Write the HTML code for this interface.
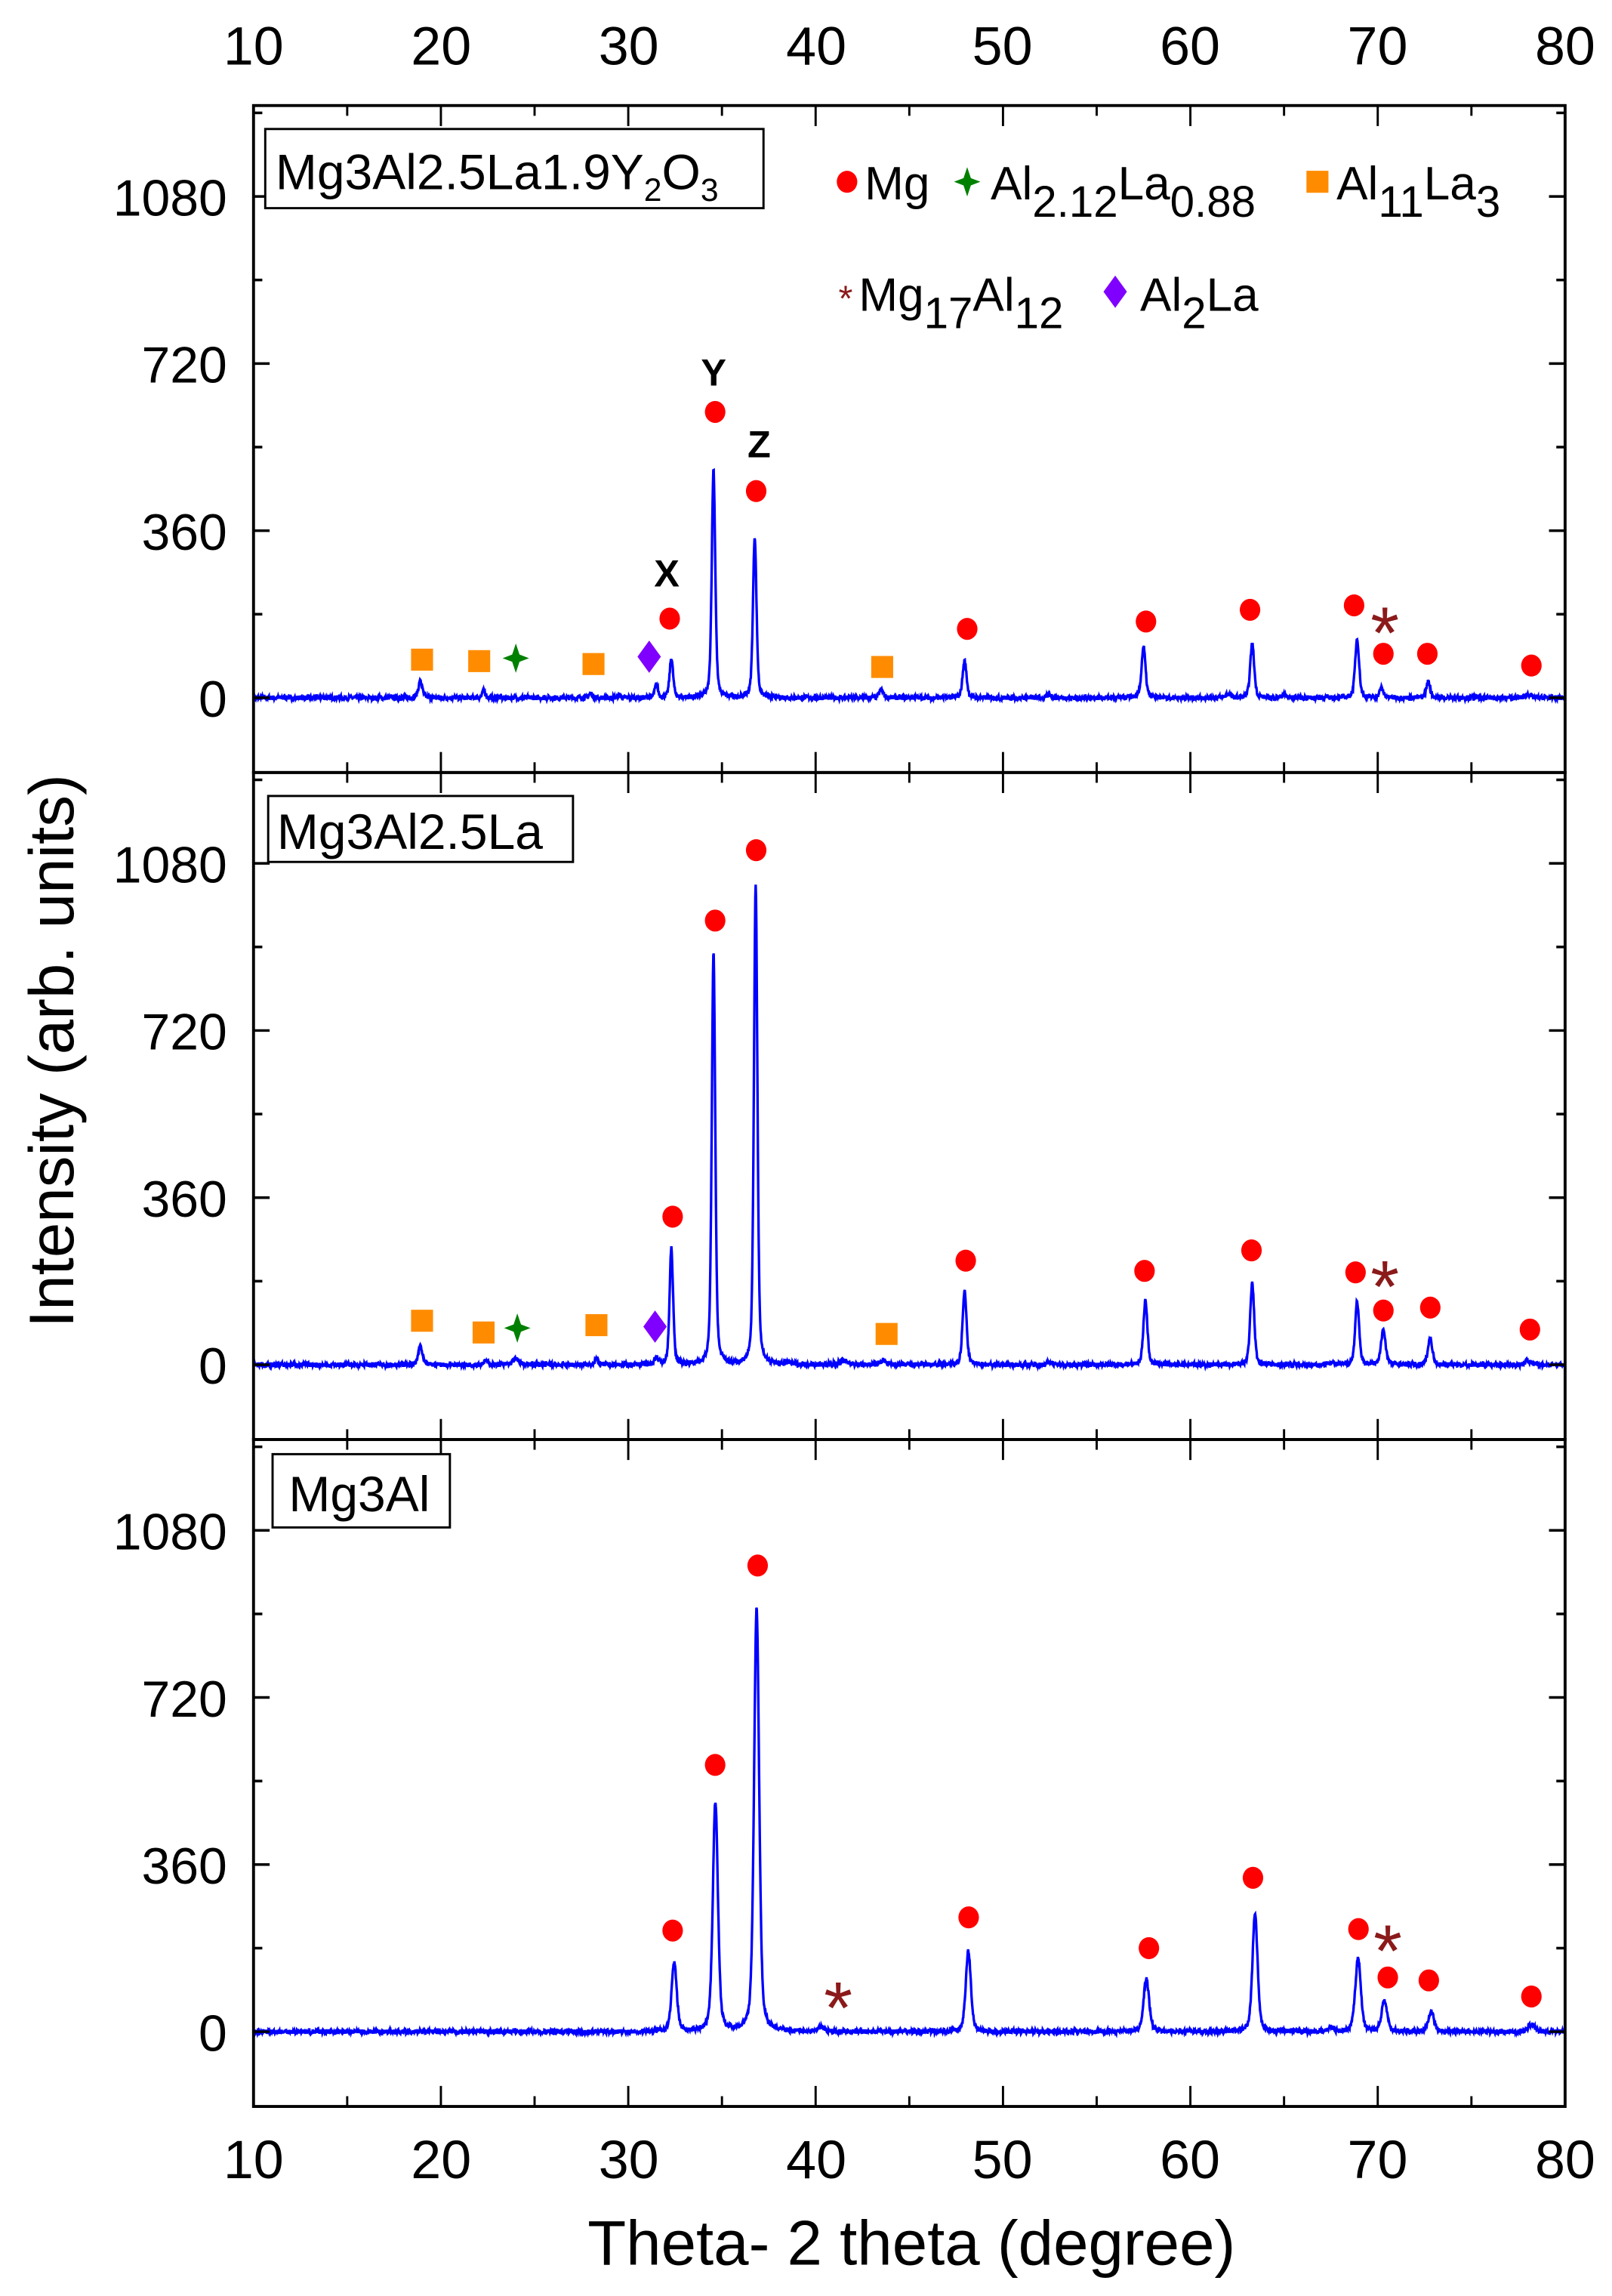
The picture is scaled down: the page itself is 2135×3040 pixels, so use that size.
<!DOCTYPE html>
<html><head><meta charset="utf-8"><style>html,body{margin:0;padding:0;background:#fff}svg{display:block}</style></head>
<body>
<svg id="s" width="2135" height="3040" viewBox="0 0 1100 1566.3" preserveAspectRatio="none" xmlns="http://www.w3.org/2000/svg" font-family="Liberation Sans, Arial, sans-serif">
<rect width="1100" height="1566.3" fill="#fff"/>
<g id="g"></g>
<g font-size="37" text-anchor="middle" fill="#000">
<text x="173" y="44">10</text><text x="301" y="44">20</text><text x="429" y="44">30</text><text x="557" y="44">40</text><text x="684" y="44">50</text><text x="812" y="44">60</text><text x="940" y="44">70</text><text x="1068" y="44">80</text>
<text x="173" y="1486">10</text><text x="301" y="1486">20</text><text x="429" y="1486">30</text><text x="557" y="1486">40</text><text x="684" y="1486">50</text><text x="812" y="1486">60</text><text x="940" y="1486">70</text><text x="1068" y="1486">80</text>
</g>
<text x="622" y="1545" font-size="43" text-anchor="middle">Theta- 2 theta (degree)</text>
<text transform="translate(50,717) rotate(-90)" font-size="43" text-anchor="middle">Intensity (arb. units)</text>
<rect x="181" y="88" width="340" height="54" fill="#fff" stroke="#000" stroke-width="1.5"/>
<text x="188" y="129" font-size="34">Mg3Al2.5La1.9Y<tspan font-size="22" dy="8">2</tspan><tspan dy="-8">O</tspan><tspan font-size="22" dy="8">3</tspan></text>
<rect x="183" y="543" width="208" height="45" fill="#fff" stroke="#000" stroke-width="1.5"/>
<text x="189" y="579" font-size="34">Mg3Al2.5La</text>
<rect x="186" y="992" width="121" height="50" fill="#fff" stroke="#000" stroke-width="1.5"/>
<text x="197" y="1031" font-size="34">Mg3Al</text>
<g font-size="32">
<text x="590" y="136">Mg</text>
<text x="676" y="136">Al<tspan font-size="30" dy="12">2.12</tspan><tspan dy="-12">La</tspan><tspan font-size="30" dy="12">0.88</tspan></text>
<text x="912" y="136">Al<tspan font-size="30" dy="12">11</tspan><tspan dy="-12">La</tspan><tspan font-size="30" dy="12">3</tspan></text>
<text x="586" y="212">Mg<tspan font-size="30" dy="12">17</tspan><tspan dy="-12">Al</tspan><tspan font-size="30" dy="12">12</tspan></text>
<text x="778" y="212">Al<tspan font-size="30" dy="12">2</tspan><tspan dy="-12">La</tspan></text>
</g>
<g font-size="26" font-weight="bold" text-anchor="middle">
<text x="455" y="400">X</text><text x="487" y="263">Y</text><text x="518" y="312">Z</text>
</g>
<g id="m"></g>
</svg>
<script>
const NS="http://www.w3.org/2000/svg";
const g=document.getElementById('g'), m=document.getElementById('m');
function el(p,t,a,txt){const e=document.createElementNS(NS,t);for(const k in a)e.setAttribute(k,a[k]);if(txt)e.textContent=txt;p.appendChild(e);return e;}
const L=173,R=1068,X=d=>L+(d-10)*(R-L)/70;
const tops=[72,527,982],zeros=[476,931,1386],k=114/360;
const peaks=[
[[18.9,35,.25],[22.3,15,.2],[28,10,.2],[29.5,5,.2],[31.5,28,.2],[32.3,85,.22],[34.55,492,.22],[36.75,347,.22],[43.5,18,.25],[47.95,79,.25],[52.5,6,.3],[57.5,110,.25],[62,8,.3],[63.3,117,.25],[65,6,.3],[68.9,127,.25],[70.2,20,.25],[72.7,35,.25],[78,8,.3]],
[[18.9,41,.25],[22.4,8,.3],[24,12,.4],[28.3,12,.25],[31.5,15,.25],[32.3,250,.22],[34.55,886,.22],[36.8,1035,.22],[38.5,5,.3],[41.5,8,.6],[43.6,10,.3],[47.95,158,.25],[52.5,5,.3],[57.6,139,.25],[63.3,177,.25],[67.5,6,.3],[68.9,136,.25],[70.3,76,.28],[72.8,57,.28],[78,10,.3]],
[[32.45,148,.32],[34.65,495,.32],[36.85,912,.32],[40.3,8,.4],[48.15,174,.32],[57.65,114,.35],[63.45,256,.32],[67.5,10,.3],[68.95,158,.35],[70.35,66,.35],[72.85,44,.35],[78.2,16,.4]]];
let seed=7;const rnd=()=>{seed=(seed*16807)%2147483647;return seed/2147483647;};
for(let p=0;p<3;p++){
  const t=tops[p],b=t+455,z=zeros[p];
  let d="";
  for(let i=0;i<=3500;i++){const deg=10+70*i/3500;let y=0;
    for(const [c,h,w] of peaks[p]){const u=(deg-c)/w;y+=h*(0.6*Math.exp(-u*u*2.77)+0.4/(1+4*u*u));}
    y+=(rnd()-0.5)*10;
    d+=(i?"L":"M")+X(deg).toFixed(2)+" "+(z-y*k).toFixed(2);}
  el(g,"path",{d,fill:"none",stroke:"#0000ff","stroke-width":1.7});
  el(g,"rect",{x:L,y:t,width:R-L,height:455,fill:"none",stroke:"#000","stroke-width":2});
  for(let v=10;v<=80;v+=5){const x=X(v),len=v%10?7:14;
    el(g,"line",{x1:x,x2:x,y1:t,y2:t+len,stroke:"#000","stroke-width":1.5});
    el(g,"line",{x1:x,x2:x,y1:b,y2:b-len,stroke:"#000","stroke-width":1.5});}
  for(let v=-180;v<=1260;v+=180){const y=z-v*k;if(y<=t+1||y>=b-1)continue;const len=v%360?6:11;
    el(g,"line",{x1:L,x2:L+len,y1:y,y2:y,stroke:"#000","stroke-width":1.8});
    el(g,"line",{x1:R,x2:R-len,y1:y,y2:y,stroke:"#000","stroke-width":1.8});
    if(v%360==0&&v>=0)el(g,"text",{x:155,y:y+13,"font-size":35,"text-anchor":"end"},String(v));}
}
function circ(x,y){el(m,"ellipse",{cx:x,cy:y,rx:7,ry:7.5,fill:"#ff0000"});}
function sq(x,y){el(m,"rect",{x:x-7.5,y:y-7.5,width:15,height:15,fill:"#ff8c00"});}
function dia(x,y){el(m,"path",{d:`M${x} ${y-11}L${x+8} ${y}L${x} ${y+11}L${x-8} ${y}Z`,fill:"#8000ff"});}
function star(x,y){el(m,"path",{d:`M${x} ${y-10}L${x+2.5} ${y-2.5}L${x+9} ${y}L${x+2.5} ${y+2.5}L${x} ${y+10}L${x-2.5} ${y+2.5}L${x-9} ${y}L${x-2.5} ${y-2.5}Z`,fill:"#008000"});}
function ast(x,y,s){s=s||1;el(m,"text",{x:x,y:y+22*s,"font-size":50*s,"text-anchor":"middle",fill:"#8b1a1a"},"*");}
[[457,422],[488,281],[516,335],[660,429],[782,424],[853,416],[924,413],[944,446],[974,446],[1045,454],
 [459,830],[488,628],[516,580],[659,860],[781,867],[854,853],[925,868],[944,894],[976,892],[1044,907],
 [459,1317],[488,1204],[517,1068],[661,1308],[784,1329],[855,1281],[927,1316],[947,1349],[975,1351],[1045,1362],[578,124]].forEach(a=>circ(...a));
[[288,450],[327,451],[405,453],[602,455],[288,901],[330,909],[407,904],[605,910],[899,124]].forEach(a=>sq(...a));
[[352,449],[353,906],[660,124]].forEach(a=>star(...a));
[[443,448],[447,905],[761,199]].forEach(a=>dia(...a));
[[945,427],[945,873],[572,1365],[947,1326]].forEach(a=>ast(...a));
ast(577,201,0.5);
</script>
</body></html>
